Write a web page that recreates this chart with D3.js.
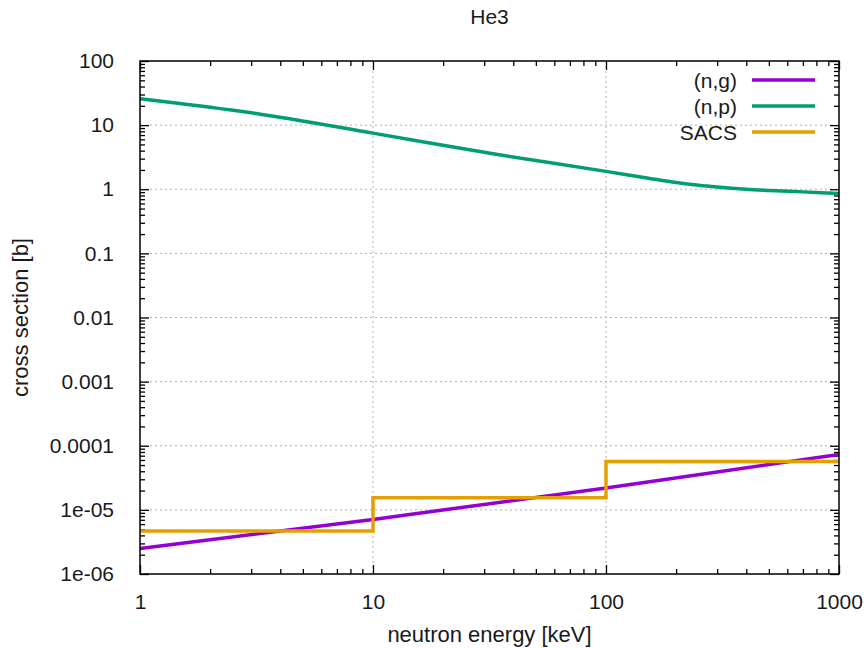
<!DOCTYPE html>
<html>
<head>
    <title>He3</title>
</head>
<body style="margin:0">
<style type="text/css">
    body {
        background: #fff;
    }

    #renderer {
        width: 868px;
        height: 648px;
        background: #FFF;
        display: block;
    }

    text {
        font-family: "Liberation Sans", Arial, sans-serif;
        fill: #1a1a1a;
    }
</style>
<script type="text/javascript" src="https://cdnjs.cloudflare.com/ajax/libs/d3/7.8.5/d3.min.js"></script>
<svg id='renderer'></svg>

<script type="text/javascript">
    // data (energy in keV, cross section in b)
    var energyTicks = [1, 10, 100, 1000];
    var sectionTicks = [1e-6, 1e-5, 1e-4, 1e-3, 1e-2, 0.1, 1, 10, 100];
    var sectionTickLabels = ['1e-06', '1e-05', '0.0001', '0.001', '0.01', '0.1', '1', '10', '100'];

    var ngEnergy = [1, 10, 100, 1000];
    var ngSection = [2.5e-6, 7.1e-6, 2.2e-5, 7.3e-5];

    var npEnergy = [1, 3.1, 10, 31.8, 100, 150, 200, 250, 300, 400, 500, 700, 1000];
    var npSection = [25.8, 15.3, 7.5, 3.63, 1.9, 1.5, 1.27, 1.15, 1.08, 1.0, 0.96, 0.91, 0.86];

    var sacsEdges = [1, 10, 100, 1000];
    var sacsValues = [4.7e-6, 1.54e-5, 5.7e-5];

    var seriesNames = ['(n,g)', '(n,p)', 'SACS'];
    var seriesColors = ['#9400d3', '#009e73', '#e69f00'];

    var root = d3.select('#renderer');

    var totalWidth = 868;
    var totalHeight = 648;
    var paddingLeft = 140;
    var paddingRight = 29;
    var paddingTop = 61;
    var paddingBottom = 74;

    var graphWidth = totalWidth - paddingLeft - paddingRight;
    var graphHeight = totalHeight - paddingTop - paddingBottom;

    var labelFont = '"Liberation Sans", Arial, sans-serif';

    var x = d3.scaleLog().domain([1, 1000]).range([paddingLeft, paddingLeft + graphWidth]);
    var y = d3.scaleLog().domain([1e-6, 100]).range([paddingTop + graphHeight, paddingTop]);

    // minor ticks: 2..9 of each decade
    var minorX = [];
    for (var d = 1; d < 1000; d *= 10) {
        for (var k = 2; k < 10; k++) minorX.push(d * k);
    }
    var minorY = [];
    for (var e = -6; e < 2; e++) {
        for (var m = 2; m < 10; m++) minorY.push(m * Math.pow(10, e));
    }

    // grid
    var grid = root.append('g');
    energyTicks.slice(1, -1).forEach(function (v) {
        grid.append('line')
            .attr('x1', x(v)).attr('x2', x(v))
            .attr('y1', paddingTop).attr('y2', paddingTop + graphHeight)
            .attr('stroke', '#b0b0b0').attr('stroke-dasharray', '2,3');
    });
    sectionTicks.slice(1, -1).forEach(function (v) {
        grid.append('line')
            .attr('x1', paddingLeft).attr('x2', paddingLeft + graphWidth)
            .attr('y1', y(v)).attr('y2', y(v))
            .attr('stroke', '#b0b0b0').attr('stroke-dasharray', '2,3');
    });

    // ticks on all four sides, pointing inward
    function tickAxis(axis, translate) {
        var g = root.append('g').attr('transform', translate).call(axis);
        g.select('.domain').remove();
        g.selectAll('.tick line').attr('stroke', '#000').attr('stroke-width', 1.3);
        return g;
    }

    var bottom = tickAxis(d3.axisBottom(x).tickValues(energyTicks).tickSize(-9).tickPadding(20)
        .tickFormat(d3.format('d')), 'translate(0,' + (paddingTop + graphHeight) + ')');
    bottom.selectAll('text').attr('font-size', 21).style('font-family', labelFont).attr('fill', '#1a1a1a');
    tickAxis(d3.axisBottom(x).tickValues(minorX).tickSize(-5).tickFormat(''),
        'translate(0,' + (paddingTop + graphHeight) + ')');
    tickAxis(d3.axisTop(x).tickValues(energyTicks).tickSize(-9).tickFormat(''),
        'translate(0,' + paddingTop + ')');
    tickAxis(d3.axisTop(x).tickValues(minorX).tickSize(-5).tickFormat(''),
        'translate(0,' + paddingTop + ')');

    var left = tickAxis(d3.axisLeft(y).tickValues(sectionTicks).tickSize(-9).tickPadding(26)
        .tickFormat(function (v, i) { return sectionTickLabels[i]; }), 'translate(' + paddingLeft + ',0)');
    left.selectAll('text').attr('font-size', 21).style('font-family', labelFont).attr('fill', '#1a1a1a');
    tickAxis(d3.axisLeft(y).tickValues(minorY).tickSize(-5).tickFormat(''), 'translate(' + paddingLeft + ',0)');
    tickAxis(d3.axisRight(y).tickValues(sectionTicks).tickSize(-9).tickFormat(''),
        'translate(' + (paddingLeft + graphWidth) + ',0)');
    tickAxis(d3.axisRight(y).tickValues(minorY).tickSize(-5).tickFormat(''),
        'translate(' + (paddingLeft + graphWidth) + ',0)');

    // curves
    var line = d3.line()
        .x(function (p) { return x(p[0]); })
        .y(function (p) { return y(p[1]); });

    var ngPoints = d3.zip(ngEnergy, ngSection);
    var npPoints = d3.zip(npEnergy, npSection);
    var sacsPoints = [];
    for (var i = 0; i < sacsValues.length; i++) {
        sacsPoints.push([sacsEdges[i], sacsValues[i]]);
        sacsPoints.push([sacsEdges[i + 1], sacsValues[i]]);
    }

    root.append('path').datum(ngPoints)
        .attr('d', line.curve(d3.curveLinear))
        .attr('fill', 'none').attr('stroke', seriesColors[0]).attr('stroke-width', 3.5);
    root.append('path').datum(npPoints)
        .attr('d', line.curve(d3.curveMonotoneX))
        .attr('fill', 'none').attr('stroke', seriesColors[1]).attr('stroke-width', 3.5);
    root.append('path').datum(sacsPoints)
        .attr('d', line.curve(d3.curveLinear))
        .attr('fill', 'none').attr('stroke', seriesColors[2]).attr('stroke-width', 3.5);

    // frame
    root.append('rect')
        .attr('x', paddingLeft).attr('y', paddingTop)
        .attr('width', graphWidth).attr('height', graphHeight)
        .attr('fill', 'none').attr('stroke', '#000').attr('stroke-width', 1.5);

    // legend
    for (var s = 0; s < seriesNames.length; s++) {
        var ly = 80 + s * 26;
        root.append('text')
            .text(seriesNames[s])
            .attr('x', 737).attr('y', ly)
            .attr('font-size', 21)
            .attr('text-anchor', 'end')
            .attr('dominant-baseline', 'central');
        root.append('line')
            .attr('x1', 752).attr('x2', 815)
            .attr('y1', ly).attr('y2', ly)
            .attr('stroke', seriesColors[s]).attr('stroke-width', 3.5);
    }

    // title and axis labels
    root.append('text')
        .text('He3')
        .attr('x', paddingLeft + graphWidth / 2).attr('y', 24)
        .attr('font-size', 21)
        .attr('text-anchor', 'middle');

    root.append('text')
        .text('neutron energy [keV]')
        .attr('x', paddingLeft + graphWidth / 2).attr('y', 642)
        .attr('font-size', 22)
        .attr('text-anchor', 'middle');

    root.append('text')
        .text('cross section [b]')
        .attr('transform', 'translate(28,' + (paddingTop + graphHeight / 2) + ') rotate(-90)')
        .attr('font-size', 22)
        .attr('text-anchor', 'middle');
</script>
</body>
</html>
